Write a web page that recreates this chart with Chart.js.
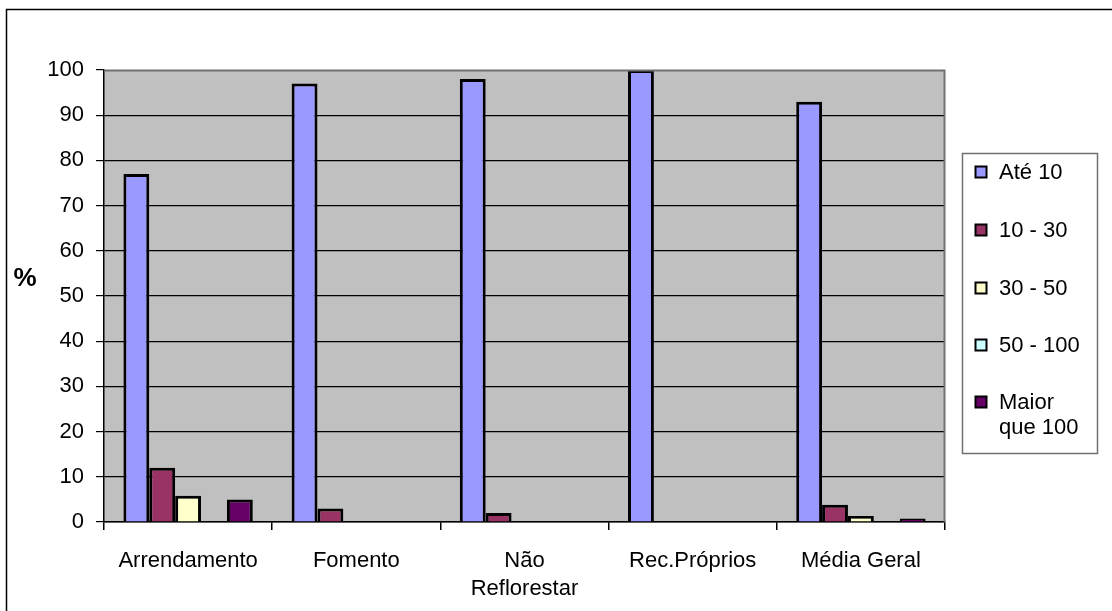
<!DOCTYPE html>
<html>
<head>
<meta charset="utf-8">
<script src="https://cdn.jsdelivr.net/npm/chart.js@4/dist/chart.umd.min.js"></script>
<style>
  html, body { margin: 0; padding: 0; background: #ffffff; }
  #wrap { width: 1112px; height: 611px; position: relative; }
</style>
</head>
<body>
<div id="wrap"><canvas id="c" width="1112" height="611"></canvas></div>
<script>
// Categories (x axis)
const categories = ['Arrendamento', 'Fomento', ['Não', 'Reflorestar'], 'Rec.Próprios', 'Média Geral'];

// Series names (legend), line break where the legend wraps
const seriesNames = ['Até 10', '10 - 30', '30 - 50', '50 - 100', 'Maior\nque 100'];

// Series values, in %
const ate10     = [77, 97, 98, 100, 93];
const de10a30   = [12, 3, 2, 0, 3.8];
const de30a50   = [5.8, 0, 0, 0, 1.3];
const de50a100  = [0, 0, 0, 0, 0];
const maior100  = [5, 0, 0, 0, 0.8];

// Y axis ticks
const yTicks = [0, 10, 20, 30, 40, 50, 60, 70, 80, 90, 100];

const seriesColors = ['#9999FF', '#993366', '#FFFFCC', '#CCFFFF', '#660066'];
const seriesValues = [ate10, de10a30, de30a50, de50a100, maior100];

const FONT = '"Liberation Sans", Arial, sans-serif';
const FONT_SIZE = 22;

const datasets = seriesValues.map((vals, i) => ({
  label: seriesNames[i],
  data: vals,
  backgroundColor: seriesColors[i],
  borderColor: '#000000',
  borderWidth: ctx => (ctx.raw === 0 ? 0 : 3),
  borderSkipped: 'start',
  barPercentage: 1.0,
  categoryPercentage: 5 / 6.5
}));

// Grey plot background, frame around the whole chart, and the top/right plot edges
const framePlugin = {
  id: 'frame',
  beforeDraw(chart) {
    const { ctx, chartArea: a } = chart;
    ctx.save();
    ctx.fillStyle = '#ffffff';
    ctx.fillRect(0, 0, chart.width, chart.height);
    ctx.fillStyle = '#C0C0C0';
    ctx.fillRect(a.left, a.top, a.right - a.left, a.bottom - a.top);
    ctx.strokeStyle = '#000000';
    ctx.lineWidth = 1.5;
    ctx.strokeRect(6.5, 9.5, chart.width + 10, chart.height + 10);
    ctx.restore();
  },
  afterDatasetsDraw(chart) {
    const { ctx, chartArea: a } = chart;
    ctx.save();
    ctx.strokeStyle = '#707070';
    ctx.lineWidth = 2;
    ctx.beginPath();
    ctx.moveTo(a.left, a.top + 0.5);
    ctx.lineTo(a.right - 0.5, a.top + 0.5);
    ctx.lineTo(a.right - 0.5, a.bottom);
    ctx.stroke();
    ctx.restore();
  }
};

// "%" axis title drawn upright, and the boxed legend on the right
const sidePlugin = {
  id: 'side',
  afterDraw(chart) {
    const { ctx } = chart;
    ctx.save();
    ctx.fillStyle = '#000000';
    ctx.font = 'bold 26px ' + FONT;
    ctx.textAlign = 'center';
    ctx.textBaseline = 'middle';
    ctx.fillText('%', 25, 279);

    // legend box
    const bx = 962.5, by = 153.5, bw = 135, bh = 300;
    ctx.fillStyle = '#ffffff';
    ctx.fillRect(bx, by, bw, bh);
    ctx.strokeStyle = '#707070';
    ctx.lineWidth = 1.5;
    ctx.strokeRect(bx, by, bw, bh);

    ctx.font = FONT_SIZE + 'px ' + FONT;
    ctx.textAlign = 'left';
    const rowY = [172, 230, 288, 345, 402];
    chart.data.datasets.forEach((ds, i) => {
      const cy = rowY[i];
      ctx.fillStyle = ds.backgroundColor;
      ctx.fillRect(975.5, cy - 5.5, 11, 11);
      ctx.strokeStyle = '#000000';
      ctx.lineWidth = 2;
      ctx.strokeRect(975.5, cy - 5.5, 11, 11);
      ctx.fillStyle = '#000000';
      ds.label.split('\n').forEach((line, k) => {
        ctx.fillText(line, 999, cy + 1 + k * 25);
      });
    });
    ctx.restore();
  }
};

new Chart(document.getElementById('c'), {
  type: 'bar',
  data: { labels: categories, datasets },
  options: {
    responsive: false,
    animation: false,
    devicePixelRatio: 1,
    layout: { padding: { left: 0, top: 70, right: 167, bottom: 0 } },
    plugins: {
      legend: { display: false },
      tooltip: { enabled: false },
      title: { display: false }
    },
    scales: {
      x: {
        offset: true,
        grid: {
          offset: true,
          drawOnChartArea: false,
          drawTicks: true,
          tickLength: 8,
          color: '#000000',
          tickColor: '#000000',
          lineWidth: 1.5
        },
        border: { display: true, color: '#000000', width: 1.5 },
        ticks: {
          color: '#000000',
          font: { family: FONT, size: FONT_SIZE, lineHeight: 1.28 },
          padding: 17,
          maxRotation: 0,
          autoSkip: false
        },
        afterFit(s) { s.height = 89; }
      },
      y: {
        min: 0,
        max: 100,
        afterBuildTicks(s) { s.ticks = yTicks.map(v => ({ value: v })); },
        grid: {
          color: ctx => (ctx.tick && ctx.tick.value === 100 ? 'rgba(0,0,0,0)' : '#000000'),
          tickColor: '#000000',
          lineWidth: 1.2,
          drawTicks: true,
          tickLength: 8
        },
        border: { display: true, color: '#000000', width: 1.5 },
        ticks: {
          color: '#000000',
          font: { family: FONT, size: FONT_SIZE },
          padding: 12
        },
        afterFit(s) { s.width = 104; }
      }
    }
  },
  plugins: [framePlugin, sidePlugin]
});
</script>
</body>
</html>
